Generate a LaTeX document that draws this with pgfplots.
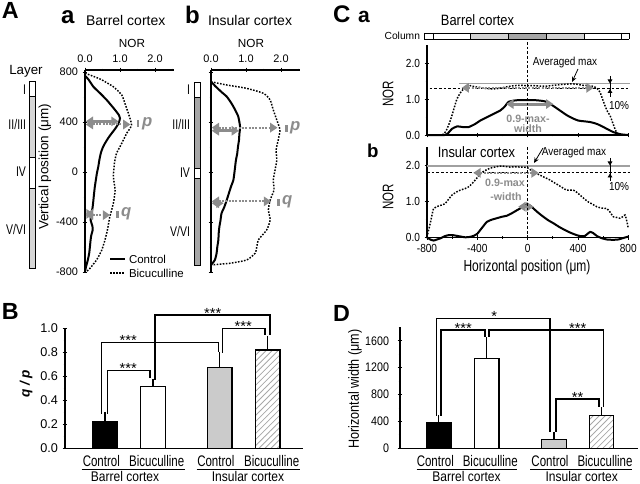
\documentclass[border=0pt]{standalone}
\usepackage{pgfplots}
\pgfplotsset{compat=1.18}
\usepackage{fontspec}
\setmainfont{Liberation Sans}
\newfontfamily\cf[FakeStretch=0.75]{Liberation Sans}
\newfontfamily\mf[FakeStretch=0.86]{Liberation Sans}
\usetikzlibrary{arrows.meta,patterns.meta}
\definecolor{garr}{HTML}{8C8C8C}
\definecolor{lgray}{HTML}{CBCBCB}
\definecolor{hatch}{HTML}{A8A8A8}
\definecolor{layA}{HTML}{D6D6D6}
\definecolor{layB}{HTML}{A6A6A6}
\definecolor{colL}{HTML}{D2D2D2}
\definecolor{colD}{HTML}{A6A6A6}
\definecolor{refg}{HTML}{A0A0A0}
\newcommand{\F}[1]{\fontsize{#1}{#1}\selectfont}
\pgfplotsset{base/.style={scale only axis, enlargelimits=false, clip=false, anchor=south west,
  every tick/.append style={black, line width=0.7pt},
  major tick length=3.5pt, minor tick length=2pt, tick align=outside},
  noarr/.style={axis line style={line width=0.9pt,-}, x axis line style={-}, y axis line style={-}}}
\tikzset{
  ctrl/.style={black, line width=1.5pt, smooth, tension=0.35, no markers},
  bic/.style={black, line width=1.1pt, dash pattern=on 1.2pt off 1.1pt, smooth, tension=0.35, no markers},
  arrS/.style={draw=garr, line width=2.2pt, {Triangle[length=5.5pt,width=7pt]}-{Triangle[length=5.5pt,width=7pt]}},
  arrD/.style={draw=garr, line width=1.5pt, dash pattern=on 1.5pt off 1pt, {Triangle[length=5.5pt,width=7pt]}-{Triangle[length=5.5pt,width=7pt]}},
  txt/.style={inner sep=0pt, outer sep=0pt},
  brk/.style={black, line width=0.8pt}
}
\begin{document}
\begin{tikzpicture}[x=0.75pt,y=-0.75pt]
\path[use as bounding box] (0,0) rectangle (640,484);

%================ A a
\begin{axis}[base, at={(63.75pt,-204pt)}, width=66.94pt, height=151.5pt,
  xmin=0, xmax=2.55, ymin=-800, ymax=816, axis x line=top, axis y line=left, noarr,
  xtick={0,1,2}, xticklabels={0.0,1.0,2.0}, minor xtick={0.5,1.5,2.5},
  ytick={-800,-400,0,400,800}, yticklabels={-800,-400,0,400,800}, minor ytick={-600,-200,200,600},
  tick label style={font=\F{8.2}}]
\addplot[ctrl] coordinates {(0,770) (0.1,740) (0.24,682) (0.45,625) (0.62,576) (0.76,530) (0.86,496) (0.97,455) (1.0,430) (0.96,390) (0.86,345) (0.76,309) (0.66,270) (0.57,229) (0.50,190) (0.45,149) (0.41,95) (0.38,43) (0.34,-10) (0.31,-64) (0.28,-120) (0.26,-170) (0.24,-225) (0.22,-277) (0.19,-330) (0.16,-384) (0.21,-430) (0.22,-464) (0.18,-505) (0.16,-544) (0.14,-600) (0.12,-650) (0.08,-705) (0.03,-757) (0,-797)};
\addplot[bic] coordinates {(0,790) (0.43,744) (0.81,682) (1.05,616) (1.14,549) (1.24,469) (1.33,376) (1.19,309) (1.05,229) (0.9,149) (0.84,69) (0.81,-37) (0.86,-144) (0.81,-250) (0.71,-357) (0.64,-464) (0.57,-544) (0.48,-624) (0.33,-704) (0.1,-784) (0,-800)};
\draw[arrS] (axis cs:0.02,405) -- (axis cs:0.96,405);
\draw[arrD] (axis cs:0.02,380) -- (axis cs:1.3,380);
\draw[arrS] (axis cs:0.02,-335) -- (axis cs:0.25,-335);
\draw[arrD] (axis cs:0.02,-345) -- (axis cs:0.72,-345);
\end{axis}

%================ A b
\begin{axis}[base, at={(158.25pt,-204pt)}, width=66.94pt, height=151.5pt,
  xmin=0, xmax=2.55, ymin=-800, ymax=816, axis x line=top, axis y line=left, noarr,
  xtick={0,1,2}, xticklabels={0.0,1.0,2.0}, minor xtick={0.5,1.5,2.5},
  ytick={-800,-400,0,400,800}, yticklabels={}, minor ytick={-600,-200,200,600},
  tick label style={font=\F{8.2}}]
\addplot[ctrl] coordinates {(0,722) (0.14,682) (0.30,640) (0.45,603) (0.56,560) (0.64,523) (0.72,480) (0.78,443) (0.83,363) (0.81,300) (0.80,256) (0.77,200) (0.75,149) (0.71,90) (0.68,20) (0.64,-64) (0.58,-110) (0.54,-144) (0.45,-224) (0.38,-280) (0.3,-331) (0.27,-390) (0.24,-437) (0.22,-490) (0.21,-544) (0.18,-600) (0.16,-650) (0.11,-704) (0,-744)};
\addplot[bic] coordinates {(0,722) (0.45,696) (1.02,669) (1.5,629) (1.69,576) (1.78,496) (1.88,416) (1.97,336) (1.92,256) (1.86,176) (1.88,96) (1.83,16) (1.78,-64) (1.8,-144) (1.69,-224) (1.64,-304) (1.69,-384) (1.59,-464) (1.35,-544) (1.31,-597) (1.26,-650) (1.02,-704) (0.54,-730) (0,-744)};
\draw[arrD] (axis cs:0.02,355) -- (axis cs:1.9,355);
\draw[arrS] (axis cs:0.02,330) -- (axis cs:0.8,330);
\draw[arrD] (axis cs:0.02,-235) -- (axis cs:1.72,-235);
\draw[arrS] (axis cs:0.02,-250) -- (axis cs:0.36,-250);
\end{axis}

%================ C a
\begin{axis}[base, at={(320.25pt,-101.25pt)}, width=150.98pt, height=67.5pt,
  xmin=-800, xmax=800, ymin=0, ymax=2.5, axis x line=bottom, axis y line=left, noarr,
  xtick={-800,-400,0,400,800}, xticklabels={}, minor xtick={-600,-200,200,600},
  ytick={0,1,2}, yticklabels={0.0,1.0,2.0}, minor ytick={0.5,1.5},
  tick label style={font=\mf\F{8.8}}]
\draw[refg, line width=0.8pt] (axis cs:-545,1.42) -- (axis cs:810,1.42);
\draw[black, line width=0.8pt, dash pattern=on 2pt off 1.5pt] (axis cs:-780,1.28) -- (axis cs:810,1.28);
\addplot[ctrl] coordinates {(-800,0) (-660,0) (-630,0.06) (-602,0.17) (-560,0.24) (-515,0.22) (-470,0.22) (-420,0.30) (-377,0.40) (-298,0.54) (-218,0.68) (-180,0.80) (-152,0.92) (-100,0.96) (-60,0.97) (46,0.97) (110,0.95) (152,0.92) (190,0.84) (232,0.74) (311,0.55) (360,0.46) (403,0.40) (450,0.38) (496,0.36) (540,0.32) (575,0.27) (630,0.17) (681,0.08) (740,0.02) (800,0)};
\addplot[bic] coordinates {(-800,0) (-681,0) (-655,0.08) (-641,0.17) (-620,0.35) (-602,0.54) (-580,0.80) (-562,1.0) (-535,1.17) (-509,1.28) (-480,1.35) (-456,1.37) (-420,1.34) (-377,1.32) (-330,1.29) (-271,1.28) (-220,1.30) (-165,1.34) (-110,1.37) (-60,1.38) (0,1.37) (46,1.37) (100,1.36) (152,1.36) (210,1.38) (258,1.40) (300,1.41) (345,1.42) (390,1.41) (440,1.38) (490,1.37) (522,1.35) (550,1.30) (575,1.19) (595,1.0) (615,0.81) (635,0.65) (655,0.54) (675,0.35) (694,0.17) (710,0.05) (720,0) (800,0)};
\draw[arrD] (axis cs:-525,1.31) -- (axis cs:525,1.31);
\draw[arrS] (axis cs:-170,0.86) -- (axis cs:205,0.86);
\end{axis}

%================ C b
\begin{axis}[base, at={(320.25pt,-177.98pt)}, width=150.98pt, height=67.5pt,
  xmin=-800, xmax=800, ymin=0, ymax=2.5, axis x line=bottom, axis y line=left, noarr,
  xtick={-800,-400,0,400,800}, xticklabels={-800,-400,0,400,800}, minor xtick={-600,-200,200,600},
  ytick={0,1,2}, yticklabels={0.0,1.0,2.0}, minor ytick={0.5,1.5},
  tick label style={font=\mf\F{8.8}}]
\draw[refg, line width=0.8pt] (axis cs:-800,1.98) -- (axis cs:810,1.98);
\draw[black, line width=0.8pt, dash pattern=on 2pt off 1.5pt] (axis cs:-800,1.79) -- (axis cs:810,1.79);
\addplot[ctrl] coordinates {(-800,0) (-775,-0.06) (-747,-0.09) (-720,-0.06) (-694,-0.03) (-660,0.03) (-628,0.06) (-595,0.06) (-562,0.04) (-530,0.02) (-496,0) (-460,0.01) (-430,0.04) (-400,0.10) (-377,0.2) (-350,0.32) (-324,0.43) (-285,0.49) (-245,0.53) (-205,0.57) (-165,0.6) (-125,0.67) (-86,0.75) (-45,0.83) (-6,0.92) (20,0.88) (46,0.8) (85,0.68) (125,0.57) (165,0.47) (205,0.39) (250,0.29) (297,0.2) (345,0.12) (390,0.06) (425,0.03) (456,0.04) (480,0.11) (496,0.15) (520,0.12) (549,0.04) (585,-0.02) (628,-0.06) (680,-0.07) (721,-0.06) (760,-0.02) (800,0.02)};
\addplot[bic] coordinates {(-800,0) (-787,0.2) (-774,0.39) (-760,0.62) (-747,0.80) (-708,0.87) (-680,0.9) (-655,0.94) (-630,1.05) (-602,1.17) (-570,1.25) (-536,1.31) (-500,1.35) (-470,1.40) (-445,1.48) (-417,1.59) (-390,1.70) (-364,1.80) (-330,1.87) (-298,1.92) (-260,1.95) (-218,1.98) (-180,1.97) (-139,1.95) (-100,1.96) (-60,1.95) (-6,1.94) (20,1.88) (46,1.82) (85,1.75) (125,1.68) (179,1.59) (210,1.52) (244,1.45) (280,1.37) (311,1.31) (363,1.31) (390,1.25) (417,1.17) (450,1.07) (483,0.98) (515,0.92) (549,0.85) (590,0.81) (628,0.80) (655,0.7) (681,0.57) (710,0.55) (734,0.53) (755,0.57) (774,0.62) (788,0.45) (800,0.25)};
\draw[arrD] (axis cs:-432,1.79) -- (axis cs:88,1.79);
\draw[arrS] (axis cs:-75,0.85) -- (axis cs:48,0.85);
\end{axis}

%================ B
\begin{axis}[base, at={(48.75pt,-336.3pt)}, width=178.5pt, height=90pt,
  xmin=-0.833, xmax=4.125, ymin=0, ymax=1, axis x line=bottom, axis y line=left, noarr,
  xtick=\empty, ytick={0,0.2,0.4,0.6,0.8,1.0}, yticklabels={0.0,0.2,0.4,0.6,0.8,1.0},
  minor ytick={0.1,0.3,0.5,0.7,0.9}, tick label style={font=\F{9.5}},
  error bars/error bar style={line width=0.9pt, black},
  error bars/error mark options={line width=0.9pt, black, mark size=3pt}]
\addplot[ybar, bar width=18.4pt, bar shift=0pt, fill=black, draw=black, line width=0.9pt,
  error bars/.cd, y dir=plus, y explicit] coordinates {(0,0.22) +- (0,0.05)};
\addplot[ybar, bar width=18.4pt, bar shift=0pt, fill=white, draw=black, line width=0.9pt,
  error bars/.cd, y dir=plus, y explicit] coordinates {(1,0.515) +- (0,0.03)};
\addplot[ybar, bar width=18.4pt, bar shift=0pt, fill=lgray, draw=black, line width=0.9pt,
  error bars/.cd, y dir=plus, y explicit] coordinates {(2.39,0.675) +- (0,0.097)};
\addplot[ybar, bar width=18.4pt, bar shift=0pt, draw=black, line width=0.9pt,
  pattern={Lines[angle=45,distance=3.2pt,line width=0.6pt]}, pattern color=hatch,
  error bars/.cd, y dir=plus, y explicit] coordinates {(3.39,0.82) +- (0,0.085)};
\end{axis}

%================ D
\begin{axis}[base, at={(300pt,-336.3pt)}, width=178.5pt, height=90.8pt,
  xmin=-0.808, xmax=4.15, ymin=0, ymax=1800, axis x line=bottom, axis y line=left, noarr,
  xtick=\empty, ytick={0,400,800,1200,1600}, yticklabels={0,400,800,1200,1600},
  minor ytick={200,600,1000,1400,1800}, tick label style={font=\mf\F{9.3}},
  yticklabel style={xshift=-3pt},
  error bars/error bar style={line width=0.9pt, black},
  error bars/error mark options={line width=0.9pt, black, mark size=3pt}]
\addplot[ybar, bar width=18.4pt, bar shift=0pt, fill=black, draw=black, line width=0.9pt,
  error bars/.cd, y dir=plus, y explicit] coordinates {(0,390) +- (0,50)};
\addplot[ybar, bar width=18.4pt, bar shift=0pt, fill=white, draw=black, line width=0.9pt,
  error bars/.cd, y dir=plus, y explicit] coordinates {(1,1335) +- (0,255)};
\addplot[ybar, bar width=18.4pt, bar shift=0pt, fill=lgray, draw=black, line width=0.9pt,
  error bars/.cd, y dir=plus, y explicit] coordinates {(2.4,135) +- (0,55)};
\addplot[ybar, bar width=18.4pt, bar shift=0pt, draw=black, line width=0.9pt,
  pattern={Lines[angle=45,distance=3.2pt,line width=0.6pt]}, pattern color=hatch,
  error bars/.cd, y dir=plus, y explicit] coordinates {(3.39,485) +- (0,65)};
\end{axis}

%================ annotations A
\node[txt, anchor=base west, font=\bfseries\F{17.5}] at (2,18.5) {A};
\node[txt, anchor=base west, font=\bfseries\F{18}] at (61,24) {a};
\node[txt, anchor=base west, font=\F{10.5}] at (86,25.5) {Barrel cortex};
\node[txt, anchor=base west, font=\bfseries\F{18}] at (185,24) {b};
\node[txt, anchor=base west, font=\F{10.5}] at (208,25.5) {Insular cortex};
\node[txt, anchor=base, font=\F{8.8}] at (132,48) {NOR};
\node[txt, anchor=base, font=\F{8.8}] at (251,48) {NOR};
\node[txt, anchor=base, font=\F{10}] at (26,75) {Layer};
\node[txt, rotate=90, font=\F{10.1}] at (45,167) {Vertical position (μm)};
% layer bars
\filldraw[draw=black, line width=0.7pt, fill=white] (29,81) rectangle (35,96);
\filldraw[draw=black, line width=0.7pt, fill=layA] (29,96) rectangle (35,157);
\filldraw[draw=black, line width=0.7pt, fill=white] (29,157) rectangle (35,188);
\filldraw[draw=black, line width=0.7pt, fill=layA] (29,188) rectangle (35,268);
\filldraw[draw=black, line width=0.7pt, fill=white] (194,82) rectangle (200,97);
\filldraw[draw=black, line width=0.7pt, fill=layB] (194,97) rectangle (200,168);
\filldraw[draw=black, line width=0.7pt, fill=white] (194,168) rectangle (200,178);
\filldraw[draw=black, line width=0.7pt, fill=layB] (194,178) rectangle (200,265);
\foreach \t/\yy in {I/90, II\slash III/125, IV/172, V\slash VI/229}{
  \node[txt, anchor=east, font=\cf\F{10.5}] at (26,\yy) {\t};}
\foreach \t/\yy in {I/90, II\slash III/125, IV/173, V\slash VI/231}{
  \node[txt, anchor=east, font=\cf\F{10.5}] at (190,\yy) {\t};}
% p q labels
\fill[garr] (136.5,120.5) rectangle (139,127.5);
\node[txt, anchor=west, text=garr, font=\bfseries\itshape\F{12.5}] at (142,123.5) {p};
\fill[garr] (116,211.5) rectangle (118.5,218.5);
\node[txt, anchor=west, text=garr, font=\bfseries\itshape\F{12.5}] at (121,214) {q};
\fill[garr] (285,125) rectangle (287.5,132);
\node[txt, anchor=west, text=garr, font=\bfseries\itshape\F{12.5}] at (290,128) {p};
\fill[garr] (277,199) rectangle (279.5,206);
\node[txt, anchor=west, text=garr, font=\bfseries\itshape\F{12.5}] at (282,202) {q};
% legend
\draw[black, line width=1.5pt] (110,259.5) -- (125,259.5);
\node[txt, anchor=west, font=\F{8.6}] at (129,259.5) {Control};
\draw[black, line width=1.1pt, dash pattern=on 1.2pt off 1.1pt] (110,273) -- (125,273);
\node[txt, anchor=west, font=\F{8.6}] at (129,273) {Bicuculline};

%================ annotations C
\node[txt, anchor=base west, font=\bfseries\F{18}] at (333,23) {C};
\node[txt, anchor=base west, font=\bfseries\F{15.75}] at (358,23) {a};
\node[txt, anchor=base, font=\mf\F{11.25}] at (477.5,26) {Barrel cortex};
\node[txt, anchor=base east, font=\F{7.7}] at (420,40) {Column};
% column bar
\fill[colL] (470.9,33) rectangle (508.6,39);
\fill[colD] (508.6,33) rectangle (546.4,39);
\fill[colL] (546.4,33) rectangle (584.1,39);
\draw[black, line width=0.7pt] (424,33) -- (629,33) (424,39) -- (629,39);
\foreach \xx in {424,433.2,470.9,508.6,546.4,584.1,621.8,629}{\draw[black, line width=0.7pt] (\xx,33) -- (\xx,39);}
% vertical dashed lines
\draw[black, line width=0.7pt, dash pattern=on 2pt off 1.5pt] (527.5,42) -- (527.5,135);
\draw[black, line width=0.7pt, dash pattern=on 2pt off 1.5pt] (527.5,147) -- (527.5,237.3);
% averaged max
\node[txt, anchor=base, font=\mf\F{8.7}] at (565,65.5) {Averaged max};
\draw[black, line width=0.6pt, -{Stealth[length=4pt,width=3.5pt]}] (578,69) -- (572,82);
\node[txt, anchor=base, font=\mf\F{8.7}] at (574,156) {Averaged max};
\draw[black, line width=0.6pt, -{Stealth[length=4pt,width=3.5pt]}] (543,148) -- (534,163);
% 10%
\draw[black, line width=0.7pt, -{Triangle[length=3pt,width=3.5pt]}] (610,76) -- (610,83.5);
\draw[black, line width=0.7pt, -{Triangle[length=3pt,width=3.5pt]}] (610,97) -- (610,89);
\draw[black, line width=0.7pt] (610,80) -- (610,93);
\node[txt, anchor=base, font=\mf\F{8.7}] at (619,110) {10\%};
\draw[black, line width=0.7pt, -{Triangle[length=3pt,width=3.5pt]}] (610,158) -- (610,165.5);
\draw[black, line width=0.7pt, -{Triangle[length=3pt,width=3.5pt]}] (610,181) -- (610,173.5);
\draw[black, line width=0.7pt] (610,161) -- (610,178);
\node[txt, anchor=base, font=\mf\F{8.7}] at (619,191) {10\%};
% 0.9-max-width
\node[txt, anchor=base, text=garr, font=\bfseries\F{8}] at (528,122.5) {0.9-max-};
\node[txt, anchor=base, text=garr, font=\bfseries\F{8}] at (528,132.5) {width};
\node[txt, anchor=base, text=garr, font=\bfseries\F{8}] at (505,186.5) {0.9-max};
\node[txt, anchor=base, text=garr, font=\bfseries\F{8}] at (506,200.5) {-width};
\node[txt, anchor=base west, font=\bfseries\F{14}] at (367,158) {b};
\node[txt, anchor=base, font=\mf\F{11.25}] at (476.5,158) {Insular cortex};
\node[txt, rotate=90, font=\cf\F{11.5}] at (388,94) {NOR};
\node[txt, rotate=90, font=\cf\F{11.5}] at (388,197) {NOR};
\node[txt, anchor=base, font=\cf\F{12}] at (527,272) {Horizontal position (μm)};

%================ annotations B
\node[txt, anchor=base west, font=\bfseries\F{17.5}] at (2,320) {B};
\node[txt, rotate=90, font=\bfseries\itshape\F{10.2}] at (26,384) {q / p};
\draw[brk] (101.7,414) -- (101.7,342.7) -- (218.3,342.7) -- (218.3,351.7);
\node[txt, anchor=base, font=\F{11}] at (128.3,346) {***};
\draw[brk] (107.3,414) -- (107.3,370.7) -- (150,370.7) -- (150,378.3);
\node[txt, anchor=base, font=\F{11}] at (128.3,374) {***};
\draw[brk] (155,380) -- (155,315) -- (270,315) -- (270,335);
\node[txt, anchor=base, font=\F{11}] at (212.7,318.3) {***};
\draw[brk] (222.7,353) -- (222.7,328.3) -- (265,328.3) -- (265,335);
\node[txt, anchor=base, font=\F{11}] at (243.3,331.6) {***};
\foreach \t/\xx in {Control/101.3, Bicuculline/156.7, Control/215.8, Bicuculline/271.7}{
  \node[txt, anchor=base, font=\cf\F{11.5}] at (\xx,466.5) {\t};}
\draw[black, line width=0.7pt] (81.7,469.5) -- (185,469.5) (196.7,469.5) -- (300,469.5);
\node[txt, anchor=base, font=\mf\F{10.5}] at (125,481.5) {Barrel cortex};
\node[txt, anchor=base, font=\mf\F{10.5}] at (248,481.5) {Insular cortex};

%================ annotations D
\node[txt, anchor=base west, font=\bfseries\F{17.5}] at (333,321.5) {D};
\node[txt, rotate=90, font=\mf\F{11}] at (355,389) {Horizontal width (μm)};
\draw[brk] (436.7,416) -- (436.7,318.3) -- (550,318.3) -- (550,431.7);
\node[txt, anchor=base, font=\F{11}] at (494.3,321.6) {*};
\draw[brk] (441,416) -- (441,330) -- (485,330) -- (485,336.7);
\node[txt, anchor=base, font=\F{11}] at (463.3,333.3) {***};
\draw[brk] (489,336.7) -- (489,330) -- (603.3,330) -- (603.3,406.7);
\node[txt, anchor=base, font=\F{11}] at (577.7,333.3) {***};
\draw[brk] (556,431.7) -- (556,399) -- (599,399) -- (599,406.7);
\node[txt, anchor=base, font=\F{11}] at (577.7,402.3) {**};
\foreach \t/\xx in {Control/435.3, Bicuculline/490.3, Control/550, Bicuculline/605}{
  \node[txt, anchor=base, font=\cf\F{11.5}] at (\xx,466.5) {\t};}
\draw[black, line width=0.7pt] (416.7,469.5) -- (516.7,469.5) (530,469.5) -- (631.7,469.5);
\node[txt, anchor=base, font=\mf\F{10.5}] at (466.5,481.5) {Barrel cortex};
\node[txt, anchor=base, font=\mf\F{10.5}] at (581.7,481.5) {Insular cortex};
\end{tikzpicture}
\end{document}
